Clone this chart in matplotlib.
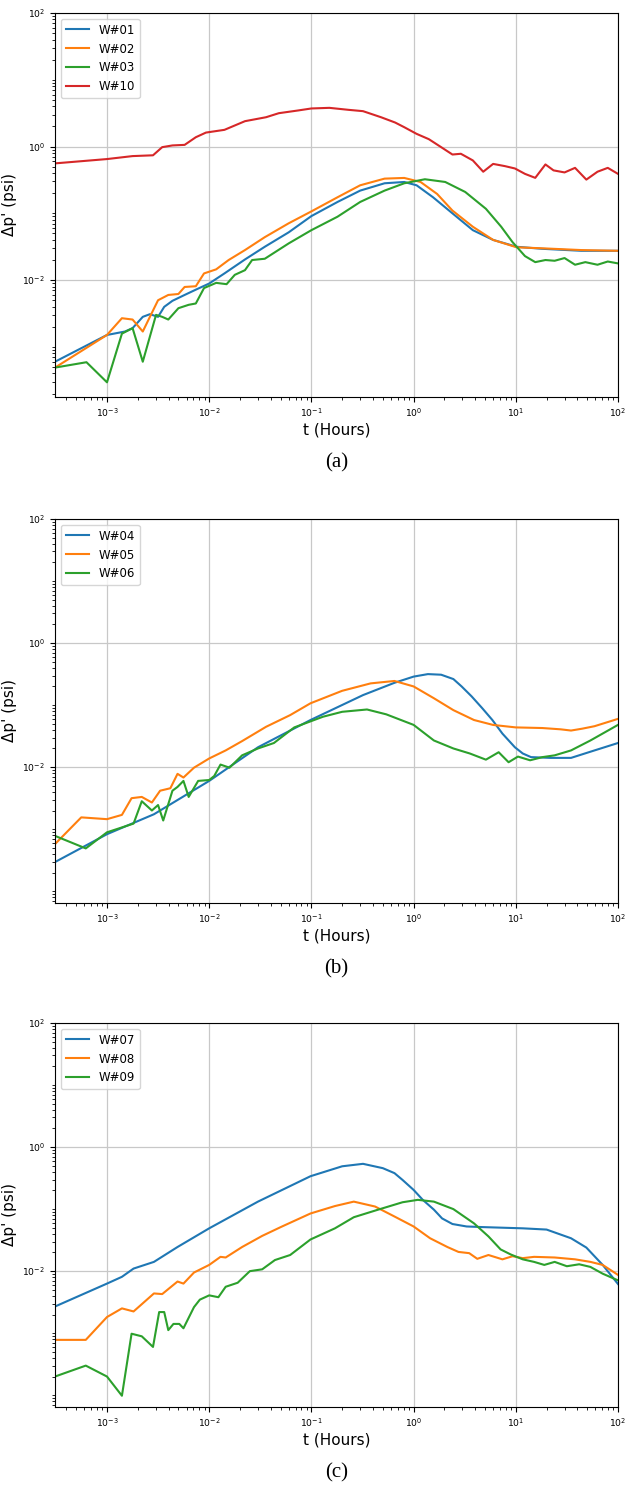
import numpy as np
import matplotlib
matplotlib.use("Agg")
import matplotlib.pyplot as plt
from matplotlib.ticker import FixedLocator, LogLocator, NullFormatter

# ---- panel (a) ----
t_w01 = [3.1e-4, 1e-3, 1.5e-3, 1.78e-3, 2.24e-3, 2.63e-3, 3.16e-3, 3.63e-3, 4.37e-3, 5.75e-3,
         7.4e-3, 1e-2, 1.41e-2, 2.24e-2, 3.5e-2, 6e-2, 0.10, 0.18, 0.30, 0.52,
         0.81, 1.07, 1.55, 2.4, 3.8, 6.0, 10.2, 17.8, 43.6, 100]
p_w01 = [6e-4, 1.51e-3, 1.70e-3, 1.91e-3, 2.82e-3, 3.09e-3, 2.82e-3, 3.98e-3, 4.9e-3, 6.0e-3,
         7.2e-3, 8.9e-3, 1.26e-2, 2.04e-2, 3.16e-2, 5.2e-2, 9.1e-2, 0.148, 0.219, 0.282,
         0.295, 0.263, 0.174, 0.100, 0.056, 0.040, 0.0316, 0.0295, 0.0275, 0.0275]

t_w02 = [3.1e-4, 1e-3, 1.4e-3, 1.78e-3, 2.24e-3, 2.63e-3, 3.16e-3, 3.98e-3, 5.0e-3, 5.75e-3,
         7.4e-3, 8.9e-3, 1.17e-2, 1.55e-2, 2.24e-2, 3.5e-2, 6e-2, 0.10, 0.18, 0.30,
         0.52, 0.81, 1.17, 1.7, 2.4, 3.8, 6.0, 10.2, 17.8, 43.6, 100]
p_w02 = [4.9e-4, 1.51e-3, 2.69e-3, 2.57e-3, 1.70e-3, 2.82e-3, 5.0e-3, 6.0e-3, 6.2e-3, 7.9e-3,
         8.1e-3, 1.26e-2, 1.45e-2, 2.0e-2, 2.82e-2, 4.4e-2, 7.1e-2, 0.107, 0.174, 0.263,
         0.331, 0.339, 0.295, 0.195, 0.110, 0.063, 0.040, 0.031, 0.030, 0.0282, 0.0275]

t_w03 = [3.1e-4, 6.3e-4, 1e-3, 1.4e-3, 1.78e-3, 2.24e-3, 3.02e-3, 3.47e-3, 3.98e-3, 5.0e-3,
         6.3e-3, 7.4e-3, 8.9e-3, 1.17e-2, 1.48e-2, 1.78e-2, 2.24e-2, 2.63e-2, 3.5e-2, 6e-2,
         0.10, 0.18, 0.30, 0.52, 0.81, 1.29, 2.04, 3.2, 5.1, 7.2,
         9.3, 12.3, 15.5, 19.5, 24, 30, 38, 47.9, 63, 79.4, 100]
p_w03 = [4.9e-4, 5.9e-4, 2.95e-4, 1.58e-3, 1.91e-3, 6.0e-4, 3.02e-3, 2.82e-3, 2.57e-3, 3.8e-3,
         4.27e-3, 4.47e-3, 7.6e-3, 9.1e-3, 8.7e-3, 1.20e-2, 1.41e-2, 2.0e-2, 2.09e-2, 3.55e-2,
         5.6e-2, 8.9e-2, 0.148, 0.219, 0.282, 0.324, 0.295, 0.209, 0.117, 0.063,
         0.037, 0.0229, 0.0186, 0.020, 0.0195, 0.0214, 0.017, 0.0186, 0.017, 0.019, 0.0178]

t_w10 = [3.1e-4, 1e-3, 1.78e-3, 2.82e-3, 3.47e-3, 4.37e-3, 5.75e-3, 7.4e-3, 9.3e-3, 1.41e-2,
         2.24e-2, 3.6e-2, 4.8e-2, 7.4e-2, 0.10, 0.15, 0.23, 0.32, 0.48, 0.66,
         0.81, 1.07, 1.41, 1.86, 2.4, 2.9, 3.8, 4.8, 6.0, 7.8,
         9.8, 12.3, 15.5, 19.5, 23.4, 30, 38, 49, 63, 79.4, 100]
p_w10 = [0.56, 0.65, 0.72, 0.74, 0.98, 1.04, 1.06, 1.38, 1.62, 1.78,
         2.4, 2.75, 3.16, 3.47, 3.72, 3.8, 3.55, 3.39, 2.75, 2.29,
         1.95, 1.55, 1.29, 0.98, 0.76, 0.78, 0.62, 0.42, 0.55, 0.51,
         0.47, 0.39, 0.34, 0.54, 0.44, 0.41, 0.48, 0.32, 0.42, 0.48, 0.39]

# ---- panel (b) ----
t_w04 = [3.1e-4, 1e-3, 2.88e-3, 1e-2, 3.0e-2, 9.8e-2, 0.32, 0.65, 1.0, 1.38,
         1.86, 2.45, 2.95, 3.7, 4.7, 5.9, 7.4, 9.8, 11.7, 14.1,
         21.9, 34.7, 58.9, 100]
p_w04 = [2.95e-4, 8.3e-4, 1.74e-3, 6.0e-3, 2.09e-2, 5.75e-2, 0.145, 0.229, 0.288, 0.316,
         0.309, 0.263, 0.20, 0.138, 0.089, 0.0575, 0.0347, 0.0209, 0.0166, 0.0145,
         0.0141, 0.0141, 0.0186, 0.0245]

t_w05 = [3.1e-4, 5.6e-4, 1e-3, 1.4e-3, 1.74e-3, 2.19e-3, 2.75e-3, 3.31e-3, 4.17e-3, 4.9e-3,
         5.6e-3, 7.1e-3, 1e-2, 1.45e-2, 2.1e-2, 3.6e-2, 6.2e-2, 0.098, 0.20, 0.38,
         0.65, 1.0, 1.58, 2.45, 3.9, 6.0, 10, 18.2, 27.5, 34.7, 44.7, 58.9, 100]
p_w05 = [5.75e-4, 1.55e-3, 1.45e-3, 1.70e-3, 3.16e-3, 3.31e-3, 2.69e-3, 4.17e-3, 4.57e-3, 7.8e-3,
         6.8e-3, 9.8e-3, 1.38e-2, 1.86e-2, 2.63e-2, 4.47e-2, 6.9e-2, 0.107, 0.170, 0.224,
         0.245, 0.20, 0.129, 0.083, 0.0575, 0.0479, 0.0437, 0.0427, 0.0407, 0.0389, 0.0417, 0.0457, 0.060]

t_w06 = [3.1e-4, 6.2e-4, 1e-3, 1.82e-3, 2.19e-3, 2.75e-3, 3.16e-3, 3.55e-3, 4.37e-3, 4.9e-3,
         5.6e-3, 6.3e-3, 7.8e-3, 1e-2, 1.12e-2, 1.29e-2, 1.58e-2, 2.1e-2, 3.0e-2, 4.3e-2,
         6.8e-2, 0.13, 0.20, 0.35, 0.54, 1.0, 1.58, 2.45, 3.55, 5.1,
         6.8, 8.5, 10.5, 13.8, 18.2, 24, 34.7, 53.7, 100]
p_w06 = [7.8e-4, 4.9e-4, 8.9e-4, 1.23e-3, 2.82e-3, 2.0e-3, 2.45e-3, 1.38e-3, 4.17e-3, 4.8e-3,
         6.0e-3, 3.31e-3, 6.0e-3, 6.2e-3, 7.2e-3, 1.10e-2, 9.8e-3, 1.55e-2, 2.0e-2, 2.45e-2,
         4.37e-2, 6.5e-2, 7.8e-2, 8.5e-2, 7.1e-2, 4.8e-2, 2.69e-2, 2.0e-2, 1.66e-2, 1.32e-2,
         1.74e-2, 1.20e-2, 1.48e-2, 1.29e-2, 1.45e-2, 1.55e-2, 1.86e-2, 2.69e-2, 4.8e-2]

# ---- panel (c) ----
t_w07 = [3.1e-4, 1e-3, 1.4e-3, 1.82e-3, 2.88e-3, 4.9e-3, 1e-2, 3.0e-2, 9.8e-2, 0.20,
         0.32, 0.50, 0.65, 0.78, 1.0, 1.23, 1.58, 1.9, 2.4, 3.3,
         4.7, 11.7, 20, 34.7, 49, 70.8, 100]
p_w07 = [2.69e-3, 6.3e-3, 8.1e-3, 1.10e-2, 1.41e-2, 2.45e-2, 4.9e-2, 0.132, 0.339, 0.49,
         0.537, 0.457, 0.38, 0.295, 0.204, 0.141, 0.098, 0.0708, 0.0575, 0.0525,
         0.0513, 0.049, 0.0468, 0.0339, 0.024, 0.0126, 6.2e-3]

t_w08 = [3.1e-4, 6.2e-4, 1e-3, 1.4e-3, 1.82e-3, 2.88e-3, 3.47e-3, 4.9e-3, 5.6e-3, 7.1e-3,
         1e-2, 1.29e-2, 1.45e-2, 2.1e-2, 3.3e-2, 5.1e-2, 9.8e-2, 0.17, 0.26, 0.42,
         0.65, 1.0, 1.45, 2.14, 2.75, 3.5, 4.2, 5.4, 7.4, 9.3,
         11.7, 15.1, 24, 38, 53.7, 70.8, 100]
p_w08 = [7.8e-4, 7.8e-4, 1.82e-3, 2.51e-3, 2.24e-3, 4.37e-3, 4.27e-3, 6.8e-3, 6.3e-3, 9.5e-3,
         1.26e-2, 1.70e-2, 1.66e-2, 2.45e-2, 3.7e-2, 5.2e-2, 8.5e-2, 0.112, 0.132, 0.110,
         0.076, 0.0525, 0.0339, 0.0245, 0.0204, 0.0195, 0.0158, 0.0182, 0.0155, 0.0174,
         0.0162, 0.017, 0.0166, 0.0155, 0.0141, 0.0126, 8.7e-3]

t_w09 = [3.1e-4, 6.2e-4, 1e-3, 1.4e-3, 1.74e-3, 2.19e-3, 2.82e-3, 3.24e-3, 3.63e-3, 3.98e-3,
         4.47e-3, 5.1e-3, 5.6e-3, 7.1e-3, 8.1e-3, 1e-2, 1.23e-2, 1.45e-2, 1.9e-2, 2.5e-2,
         3.3e-2, 4.4e-2, 6.2e-2, 9.8e-2, 0.17, 0.26, 0.45, 0.78, 1.1, 1.58,
         2.45, 3.9, 5.4, 7.1, 8.9, 11.7, 15.1, 19, 24, 31.6, 41.7, 53.7, 70.8, 100]
p_w09 = [2.0e-4, 3.0e-4, 2.0e-4, 9.8e-5, 9.8e-4, 8.9e-4, 6.0e-4, 2.19e-3, 2.19e-3, 1.12e-3,
         1.41e-3, 1.41e-3, 1.20e-3, 2.63e-3, 3.47e-3, 4.07e-3, 3.8e-3, 5.6e-3, 6.5e-3, 1.0e-2,
         1.07e-2, 1.51e-2, 1.82e-2, 3.24e-2, 4.9e-2, 7.4e-2, 9.8e-2, 0.129, 0.141, 0.132,
         0.10, 0.0589, 0.0363, 0.0224, 0.0186, 0.0155, 0.0141, 0.0126, 0.0141, 0.012,
         0.0129, 0.0117, 9.1e-3, 7.1e-3]

panels = [
    ("(a)", [("W#01", t_w01, p_w01), ("W#02", t_w02, p_w02),
             ("W#03", t_w03, p_w03), ("W#10", t_w10, p_w10)], 10 ** -3.75),
    ("(b)", [("W#04", t_w04, p_w04), ("W#05", t_w05, p_w05),
             ("W#06", t_w06, p_w06)], 10 ** -4.19),
    ("(c)", [("W#07", t_w07, p_w07), ("W#08", t_w08, p_w08),
             ("W#09", t_w09, p_w09)], 10 ** -4.19),
]
colors = ["#1f77b4", "#ff7f0e", "#2ca02c", "#d62728"]

W, H = 629, 1486
fig = plt.figure(figsize=(W / 100, H / 100), dpi=100)

# axes top edges in pixels, all panels same height
tops = [13, 519, 1023]
ax_h = 384
left, right = 55, 618

for (cap, series, ymin), top in zip(panels, tops):
    ax = fig.add_axes([left / W, 1 - (top + ax_h) / H, (right - left) / W, ax_h / H])
    for (name, t, p), c in zip(series, colors):
        ax.plot(t, p, color=c, lw=1.5, label=name)
    ax.set_xscale("log")
    ax.set_yscale("log")
    ax.set_xlim(3.1e-4, 100)
    ax.set_ylim(ymin, 100)
    ax.yaxis.set_major_locator(FixedLocator([1e-2, 1, 1e2]))
    ax.yaxis.set_minor_locator(LogLocator(base=10, subs=np.arange(1, 10), numticks=60))
    ax.yaxis.set_minor_formatter(NullFormatter())
    ax.xaxis.set_major_locator(LogLocator(base=10, numticks=20))
    ax.xaxis.set_minor_locator(LogLocator(base=10, subs=np.arange(2, 10), numticks=60))
    ax.xaxis.set_minor_formatter(NullFormatter())
    ax.tick_params(labelsize=6.7, length=3.5, width=0.8)
    ax.tick_params(which="minor", length=2, width=0.6)
    ax.grid(True, which="major", color="#c8c8c8", lw=0.9)
    ax.set_xlabel("t (Hours)", fontsize=11, labelpad=2)
    ax.set_ylabel("Δp' (psi)", fontsize=11, labelpad=4)
    ax.legend(loc="upper left", fontsize=8.5)
    fig.text(0.5 * (left + right) / W, 1 - (top + ax_h + 66) / H, cap,
             family="Liberation Serif", fontsize=15, ha="center", va="center")

fig.savefig("out.png", dpi=100)
